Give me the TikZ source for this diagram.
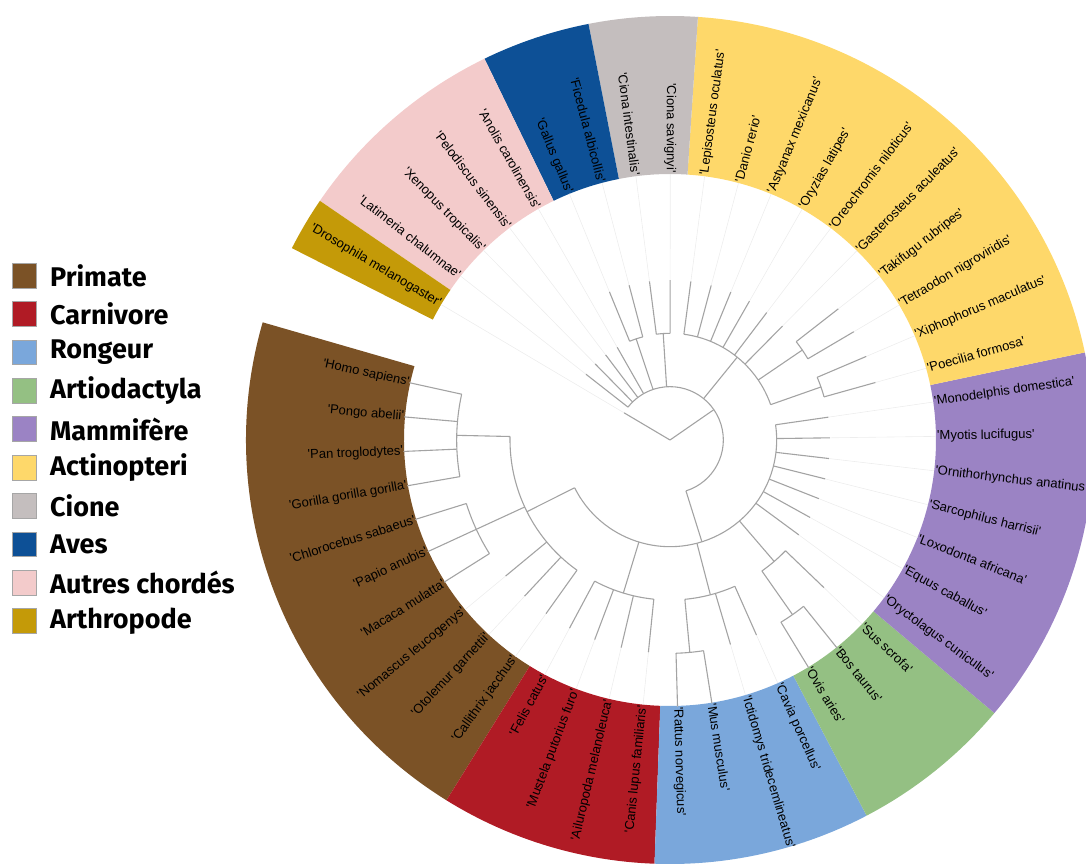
\documentclass[tikz,border=0pt]{standalone}
\usepackage{fontspec}
\newfontfamily\leaffont{Liberation Sans}
\newfontfamily\legfont{Fira Sans}
\usetikzlibrary{positioning}
\definecolor{primatebrown}{RGB}{123,82,38}
\definecolor{carnired}{RGB}{176,27,37}
\definecolor{rongeurblue}{RGB}{122,167,219}
\definecolor{artiogreen}{RGB}{148,192,131}
\definecolor{mammpurple}{RGB}{155,131,196}
\definecolor{actinoyellow}{RGB}{254,216,106}
\definecolor{cionegray}{RGB}{196,190,190}
\definecolor{avesblue}{RGB}{13,80,150}
\definecolor{autrespink}{RGB}{243,203,203}
\definecolor{arthrogold}{RGB}{196,154,8}

\begin{document}
\begin{tikzpicture}[x=1pt, y=1pt,
    branch/.style={draw=black!36, line width=1.1pt},
    faint/.style={draw=black!7, line width=0.6pt},
    leaflabel/.style={font=\leaffont\fontsize{13}{15}\selectfont, text=black, inner sep=1pt},
    legbox/.style={draw=black!35, line width=0.6pt, minimum size=24.7pt, inner sep=0pt},
    legtext/.style={font=\legfont\bfseries\fontsize{27}{31}\selectfont, inner sep=0pt}]
    \clip (-670,-425) rectangle (416,440);

    % coloured ring, one sector per group
    \foreach \col/\from/\to in {primatebrown/163.885/238.185, carnired/238.185/267.905,
        rongeurblue/267.905/297.625, artiogreen/297.625/319.915, mammpurple/319.915/371.925,
        actinoyellow/371.925/446.225, cionegray/446.225/461.085, avesblue/461.085/475.945,
        autrespink/475.945/505.665, arthrogold/505.665/513.095}
        \fill[fill=\col] (\from:266pt) arc[start angle=\from, end angle=\to, radius=266pt]
            -- (\to:424pt) arc[start angle=\to, end angle=\from, radius=424pt] -- cycle;

    % inner nodes of the tree
    \coordinate (root) at (0,0);
    \foreach \nd/\ang/\rp/\rc in {ga/178.745/160/213.33, owm/204.75/160/213.33,
        p1/206.61/106.67/160, c1/253.045/106.67/160, r3/275.335/160/213.33,
        r1/284.62/106.67/160, a2/305.055/160/213.33, a1/310.63/106.67/160,
        n3/287.41/53.33/106.67, xp/379.355/106.67/160, tt/394.215/106.67/160,
        n2/410.93/53.33/106.67, ci/453.655/53.33/106.67, av/468.515/53.33/106.67,
        n1/394.68/0/53.33}{
        \coordinate (\nd) at (\ang:\rc pt);
        \coordinate (\nd-foot) at (\ang:\rp pt);
        \draw[branch] (\nd-foot) -- (\nd);
    }
    \foreach \nd/\s/\e/\rad in {ga/167.6/189.89/213.33, owm/197.32/212.18/213.33,
        p1/178.745/234.47/160, c1/241.9/264.19/160, r3/271.62/279.05/213.33,
        r1/275.335/293.91/160, a2/301.34/308.77/213.33, a1/305.055/316.2/160,
        n3/206.61/368.21/106.67, xp/375.64/383.07/160, tt/390.5/397.93/160,
        n2/379.355/442.51/106.67, ci/449.94/457.37/106.67, av/464.8/472.23/106.67,
        n1/287.41/501.95/53.33}
        \draw[branch] (\s:\rad pt) arc[start angle=\s, end angle=\e, radius=\rad pt];

    % leaves and their labels
    \foreach \k/\sp/\rp/\tip in {0/Homo sapiens/213.33/266.67, 1/Pongo abelii/213.33/266.67,
        2/Pan troglodytes/213.33/266.67, 3/Gorilla gorilla gorilla/213.33/266.67,
        4/Chlorocebus sabaeus/213.33/266.67, 5/Papio anubis/213.33/266.67,
        6/Macaca mulatta/213.33/266.67, 7/Nomascus leucogenys/160/213.33,
        8/Otolemur garnettii/160/213.33, 9/Callithrix jacchus/160/213.33,
        10/Felis catus/160/213.33, 11/Mustela putorius furo/160/213.33,
        12/Ailuropoda melanoleuca/160/213.33, 13/Canis lupus familiaris/160/213.33,
        14/Rattus norvegicus/213.33/266.67, 15/Mus musculus/213.33/266.67,
        16/Ictidomys tridecemlineatus/160/213.33, 17/Cavia porcellus/160/213.33,
        18/Ovis aries/213.33/266.67, 19/Bos taurus/213.33/266.67, 20/Sus scrofa/160/213.33,
        21/Oryctolagus cuniculus/106.67/160, 22/Equus caballus/106.67/160,
        23/Loxodonta africana/106.67/160, 24/Sarcophilus harrisii/106.67/160,
        25/Ornithorhynchus anatinus/106.67/160, 26/Myotis lucifugus/106.67/160,
        27/Monodelphis domestica/106.67/160, 28/Poecilia formosa/160/213.33,
        29/Xiphophorus maculatus/160/213.33, 30/Tetraodon nigroviridis/160/213.33,
        31/Takifugu rubripes/160/213.33, 32/Gasterosteus aculeatus/106.67/160,
        33/Oreochromis niloticus/106.67/160, 34/Oryzias latipes/106.67/160,
        35/Astyanax mexicanus/106.67/160, 36/Danio rerio/106.67/160,
        37/Lepisosteus oculatus/106.67/160, 38/Ciona savignyi/106.67/160,
        39/Ciona intestinalis/106.67/160, 40/Ficedula albicollis/106.67/160,
        41/Gallus gallus/106.67/160, 42/Anolis carolinensis/53.33/106.67,
        43/Pelodiscus sinensis/53.33/106.67, 44/Xenopus tropicalis/53.33/106.67,
        45/Latimeria chalumnae/53.33/106.67, 46/Drosophila melanogaster/0/53.33}{
        \pgfmathsetmacro\ang{167.6+7.43*\k}
        \pgfmathtruncatemacro\flip{(\ang<270)||(\ang>449.5)}
        \coordinate (foot\k) at (\ang:\rp pt);
        \coordinate (tip\k) at (\ang:\tip pt);
        \coordinate (rim\k) at (\ang:266pt);
        \draw[faint] (tip\k) -- (rim\k);
        \draw[branch] (foot\k) -- (tip\k);
        \ifnum\flip=1
            \node[leaflabel, anchor=east, rotate=\ang-180] (lab\k) at (rim\k) {'\sp'};
        \else
            \node[leaflabel, anchor=west, rotate=\ang] (lab\k) at (rim\k) {'\sp'};
        \fi
    }

    % legend
    \foreach \k/\col/\txt in {0/primatebrown/Primate, 1/carnired/Carnivore, 2/rongeurblue/Rongeur,
        3/artiogreen/Artiodactyla, 4/mammpurple/Mammifère, 5/actinoyellow/Actinopteri,
        6/cionegray/Cione, 7/avesblue/Aves, 8/autrespink/Autres chordés, 9/arthrogold/Arthropode}{
        \node[legbox, fill=\col] (box\k) at (-645.7, {164.5-38.4*\k}) {};
        \node[legtext, right=13pt of box\k] (leg\k) {\txt};
    }
\end{tikzpicture}
\end{document}
